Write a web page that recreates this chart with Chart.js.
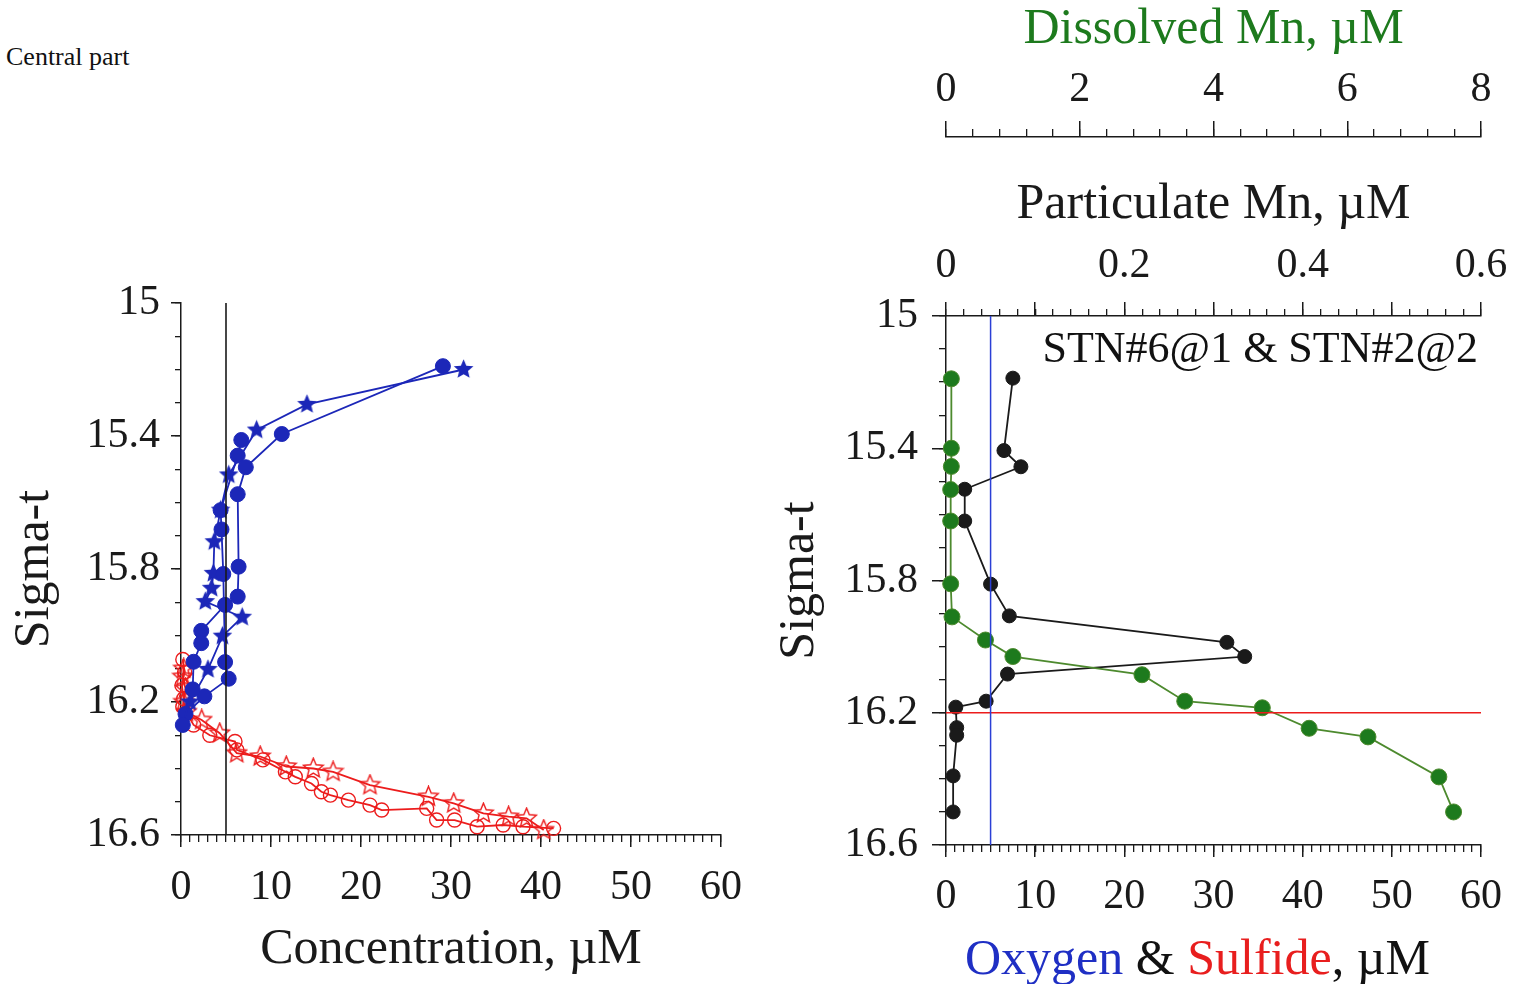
<!DOCTYPE html>
<html lang="en">
<head>
  <meta charset="UTF-8" />
  <title>Sigma-t profiles, central part</title>
  <script src="https://cdn.jsdelivr.net/npm/chart.js"></script>
  <style>
    body {
      margin: 0;
      background: #fff;
      width: 1522px;
      height: 984px;
      position: relative;
      overflow: hidden;
      font-family: 'Liberation Serif', 'DejaVu Serif', serif;
      color: #111;
    }
    canvas { position: absolute; top: 0; }
    #leftChart { left: 0; }
    #rightChart { left: 760px; }
    .txt { position: absolute; white-space: nowrap; }
    #central { left: 6px; top: 44px; font-size: 26px; line-height: 26px; }
    #stn { right: 44px; top: 326px; font-size: 44px; line-height: 44px; }
    #bottomTitle { left: 965px; top: 932px; font-size: 50px; line-height: 50px; }
  </style>
</head>
<body>
  <div class="txt" id="central">Central part</div>
  <canvas id="leftChart" width="760" height="984"></canvas>
  <canvas id="rightChart" width="762" height="984"></canvas>
  <div class="txt" id="stn">STN#6@1 &amp; STN#2@2</div>
  <div class="txt" id="bottomTitle"><span style="color:#1f2fc4">Oxygen</span> &amp; <span style="color:#e81e1e">Sulfide</span>, µM</div>

  <script>
    // ---- left panel: oxygen (blue) and sulfide (red) vs sigma-t ----
    const oxyCircA_conc = [29.1, 11.2, 7.2, 6.3, 6.4, 6.3, 4.9, 2.25, 2.25, 1.4, 1.3, 0.2];
    const oxyCircA_sig  = [15.19, 15.394, 15.494, 15.575, 15.793, 15.883, 15.908, 15.986, 16.023, 16.079, 16.162, 16.269];

    const oxyCircB_conc = [6.7, 6.3, 4.4, 4.5, 4.7, 4.9, 5.3, 2.6, 0.5];
    const oxyCircB_sig  = [15.412, 15.459, 15.623, 15.681, 15.815, 16.08, 16.13, 16.183, 16.236];

    const oxyStar_conc = [31.4, 14.0, 8.4, 5.3, 4.4, 3.7, 3.6, 3.4, 2.7, 6.8, 4.6, 3.0, 1.0];
    const oxyStar_sig  = [15.2, 15.305, 15.382, 15.517, 15.623, 15.718, 15.813, 15.858, 15.898, 15.945, 16.002, 16.102, 16.2];

    const sulfCirc_conc = [0.2, 0.4, 0.1, 0.3, 0.2, 1.4, 3.2, 6.0, 6.2, 9.1, 11.6, 12.7, 14.5, 15.6, 16.6, 18.6, 21.0, 22.3, 27.3, 28.4, 30.4, 32.9, 35.8, 38.0, 41.4];
    const sulfCirc_sig  = [16.072, 16.11, 16.15, 16.19, 16.214, 16.269, 16.3, 16.319, 16.344, 16.374, 16.41, 16.425, 16.445, 16.47, 16.48, 16.495, 16.51, 16.525, 16.52, 16.555, 16.555, 16.575, 16.57, 16.575, 16.58];

    const sulfStar_conc = [0.3, 0.2, 0.5, 0.3, 0.6, 2.3, 4.3, 6.2, 8.8, 11.7, 14.7, 16.9, 21.0, 27.5, 30.3, 33.6, 36.4, 38.4, 40.3];
    const sulfStar_sig  = [16.1, 16.124, 16.16, 16.2, 16.23, 16.254, 16.294, 16.354, 16.364, 16.394, 16.4, 16.41, 16.45, 16.485, 16.505, 16.535, 16.545, 16.55, 16.585];

    const leftRefConc = [5, 5];
    const leftRefSig  = [15, 16.6];

    // ---- right panel: Mn profiles ----
    const dissMn      = [0.08, 0.08, 0.08, 0.07, 0.07, 0.07, 0.09, 0.59, 1.0, 2.93, 3.57, 4.73, 5.43, 6.31, 7.37, 7.59];
    const dissMn_sig  = [15.19, 15.40, 15.455, 15.525, 15.62, 15.81, 15.91, 15.98, 16.03, 16.085, 16.165, 16.185, 16.247, 16.273, 16.394, 16.5];

    const partMn      = [0.075, 0.065, 0.084, 0.021, 0.021, 0.050, 0.071, 0.315, 0.335, 0.069, 0.045, 0.011, 0.012, 0.012, 0.008, 0.008];
    const partMn_sig  = [15.188, 15.407, 15.456, 15.524, 15.62, 15.811, 15.907, 15.987, 16.03, 16.083, 16.165, 16.183, 16.245, 16.268, 16.391, 16.5];

    const oxyLineConc = [5, 5];
    const oxyLineSig  = [15, 16.6];
    const sulfLineConc = [0, 60];
    const sulfLineSig  = [16.2, 16.2];

    const xTickLabels = ['0', '10', '20', '30', '40', '50', '60'];
    const sigmaLabels = ['15', '15.4', '15.8', '16.2', '16.6'];

    const pts = (xs, ys) => xs.map((x, i) => ({ x: x, y: ys[i] }));

    const BLUE = '#1c27b8';
    const RED = '#ec1c1c';
    const GREEN = '#1d7a1d';
    const GREEN_LINE = '#4d8a2e';
    const INK = '#1a1a1a';
    const SERIF = "'Liberation Serif', 'DejaVu Serif', serif";

    function starImg(size, fill, stroke) {
      const c = document.createElement('canvas');
      c.width = c.height = size;
      const g = c.getContext('2d');
      const r = size / 2 - 1.2, ri = r * 0.45;
      g.beginPath();
      for (let i = 0; i < 10; i++) {
        const a = -Math.PI / 2 + i * Math.PI / 5;
        const rr = i % 2 ? ri : r;
        g.lineTo(size / 2 + rr * Math.cos(a), size / 2 + rr * Math.sin(a));
      }
      g.closePath();
      if (fill) { g.fillStyle = fill; g.fill(); }
      if (stroke) { g.strokeStyle = stroke; g.lineWidth = 1.4; g.stroke(); }
      return c;
    }

    // force an axis box size so the plot area lands where it should
    const fix = size => s => {
      if (s.isHorizontal()) s.height = size; else s.width = size;
      s.paddingLeft = s.paddingRight = s.paddingTop = s.paddingBottom = 0;
    };

    const tickFont = { family: SERIF, size: 42 };
    const titleFont = { family: SERIF, size: 50 };

    function majorAxis(o) {
      return Object.assign({
        type: 'linear',
        grid: { drawOnChartArea: false, tickLength: o.tl, color: INK, lineWidth: 1.5 },
        border: { display: true, color: INK, width: 1.5 },
        ticks: { stepSize: o.step, maxTicksLimit: 1000, autoSkip: false, maxRotation: 0, font: tickFont, color: INK, padding: o.pad, callback: o.cb },
        afterFit: fix(o.size)
      }, o.extra);
    }
    function minorAxis(o) {
      return Object.assign({
        type: 'linear',
        grid: { drawOnChartArea: false, tickLength: o.tl, color: INK, lineWidth: 1.3 },
        border: { display: false },
        ticks: { stepSize: o.step, maxTicksLimit: 1000, display: false },
        afterFit: fix(0)
      }, o.extra);
    }

    const sigmaCb = v => {
      const s = String(+v.toFixed(1));
      return sigmaLabels.includes(s) ? s : '';
    };
    const concCb = v => {
      const s = String(Math.round(v));
      return xTickLabels.includes(s) ? s : '';
    };

    const dot = (data, color, extra) => Object.assign({
      data: data, showLine: true, borderColor: color, backgroundColor: color,
      borderWidth: 1.8, pointRadius: 7.5, pointBorderWidth: 1, clip: false
    }, extra);

    // ---------------- left chart ----------------
    new Chart(document.getElementById('leftChart'), {
      type: 'scatter',
      data: {
        datasets: [
          dot(pts(leftRefConc, leftRefSig), INK, { pointRadius: 0, borderWidth: 1.6 }),
          dot(pts(oxyCircA_conc, oxyCircA_sig), BLUE),
          dot(pts(oxyCircB_conc, oxyCircB_sig), BLUE),
          dot(pts(oxyStar_conc, oxyStar_sig), BLUE, { pointStyle: starImg(23, BLUE, null) }),
          dot(pts(sulfCirc_conc, sulfCirc_sig), RED, { backgroundColor: 'rgba(0,0,0,0)', pointBorderWidth: 1.4, pointRadius: 7 }),
          dot(pts(sulfStar_conc, sulfStar_sig), RED, { pointStyle: starImg(23, null, RED) })
        ]
      },
      options: {
        responsive: false,
        animation: false,
        layout: { padding: { top: 303, right: 39, left: 0, bottom: 0 } },
        plugins: { legend: { display: false }, tooltip: { enabled: false } },
        scales: {
          yMinor: minorAxis({ tl: 6, step: 0.1, extra: { position: 'left', reverse: true, min: 15, max: 16.6, weight: 0 } }),
          y: majorAxis({ tl: 10, step: 0.4, pad: 11, size: 181, cb: sigmaCb, extra: {
            position: 'left', reverse: true, min: 15, max: 16.6, weight: 1,
            title: { display: true, text: 'Sigma-t', font: titleFont, color: INK, padding: { top: 5, bottom: 0 } }
          } }),
          xMinor: minorAxis({ tl: 7, step: 1, extra: { position: 'bottom', min: 0, max: 60, weight: 0 } }),
          x: majorAxis({ tl: 12, step: 10, pad: 16, size: 149, cb: concCb, extra: {
            position: 'bottom', min: 0, max: 60, weight: 1,
            title: { display: true, text: 'Concentration, µM', font: titleFont, color: INK, padding: { top: 0, bottom: 4 } }
          } })
        }
      }
    });

    // ---------------- right chart ----------------
    new Chart(document.getElementById('rightChart'), {
      type: 'scatter',
      data: {
        datasets: [
          dot(pts(oxyLineConc, oxyLineSig), '#2a3fd6', { pointRadius: 0, borderWidth: 1.5, xAxisID: 'x', yAxisID: 'y' }),
          dot(pts(sulfLineConc, sulfLineSig), RED, { pointRadius: 0, borderWidth: 1.5, xAxisID: 'x', yAxisID: 'y' }),
          dot(pts(dissMn, dissMn_sig), GREEN, { borderColor: GREEN_LINE, pointRadius: 8, xAxisID: 'xd', yAxisID: 'y' }),
          dot(pts(partMn, partMn_sig), INK, { pointRadius: 7, xAxisID: 'xp', yAxisID: 'y' })
        ]
      },
      options: {
        responsive: false,
        animation: false,
        layout: { padding: { top: 0, right: 41, left: 0, bottom: 0 } },
        plugins: { legend: { display: false }, tooltip: { enabled: false } },
        scales: {
          yMinor: minorAxis({ tl: 7, step: 0.1, extra: { position: 'left', reverse: true, min: 15, max: 16.6, weight: 0 } }),
          y: majorAxis({ tl: 14, step: 0.4, pad: 14, size: 186, cb: sigmaCb, extra: {
            position: 'left', reverse: true, min: 15, max: 16.6, weight: 1,
            title: { display: true, text: 'Sigma-t', font: titleFont, color: INK, padding: { top: 10, bottom: 0 } }
          } }),
          xMinor: minorAxis({ tl: 7, step: 1, extra: { position: 'bottom', min: 0, max: 60, weight: 0 } }),
          x: majorAxis({ tl: 12, step: 10, pad: 15, size: 139, cb: concCb, extra: { position: 'bottom', min: 0, max: 60, weight: 1 } }),
          xpMinor: minorAxis({ tl: 7, step: 0.02, extra: { position: 'top', min: 0, max: 0.6, weight: 0 } }),
          xp: majorAxis({ tl: 14, step: 0.1, pad: 11, size: 179, extra: {
            position: 'top', min: 0, max: 0.6, weight: 1,
            title: { display: true, text: 'Particulate Mn, µM', font: titleFont, color: INK, padding: { top: 38, bottom: 0 } }
          }, cb: v => (Math.round(v * 10) % 2 === 0 ? String(+v.toFixed(1)) : '') }),
          xdMinor: minorAxis({ tl: 8, step: 0.4, extra: { position: 'top', min: 0, max: 8, weight: 2 } }),
          xd: majorAxis({ tl: 16, step: 2, pad: 6, size: 137, cb: v => String(Math.round(v)), extra: {
            position: 'top', min: 0, max: 8, weight: 3,
            title: { display: true, text: 'Dissolved Mn, µM', font: titleFont, color: GREEN, padding: { top: 0, bottom: 0 } }
          } })
        }
      }
    });
  </script>
</body>
</html>
